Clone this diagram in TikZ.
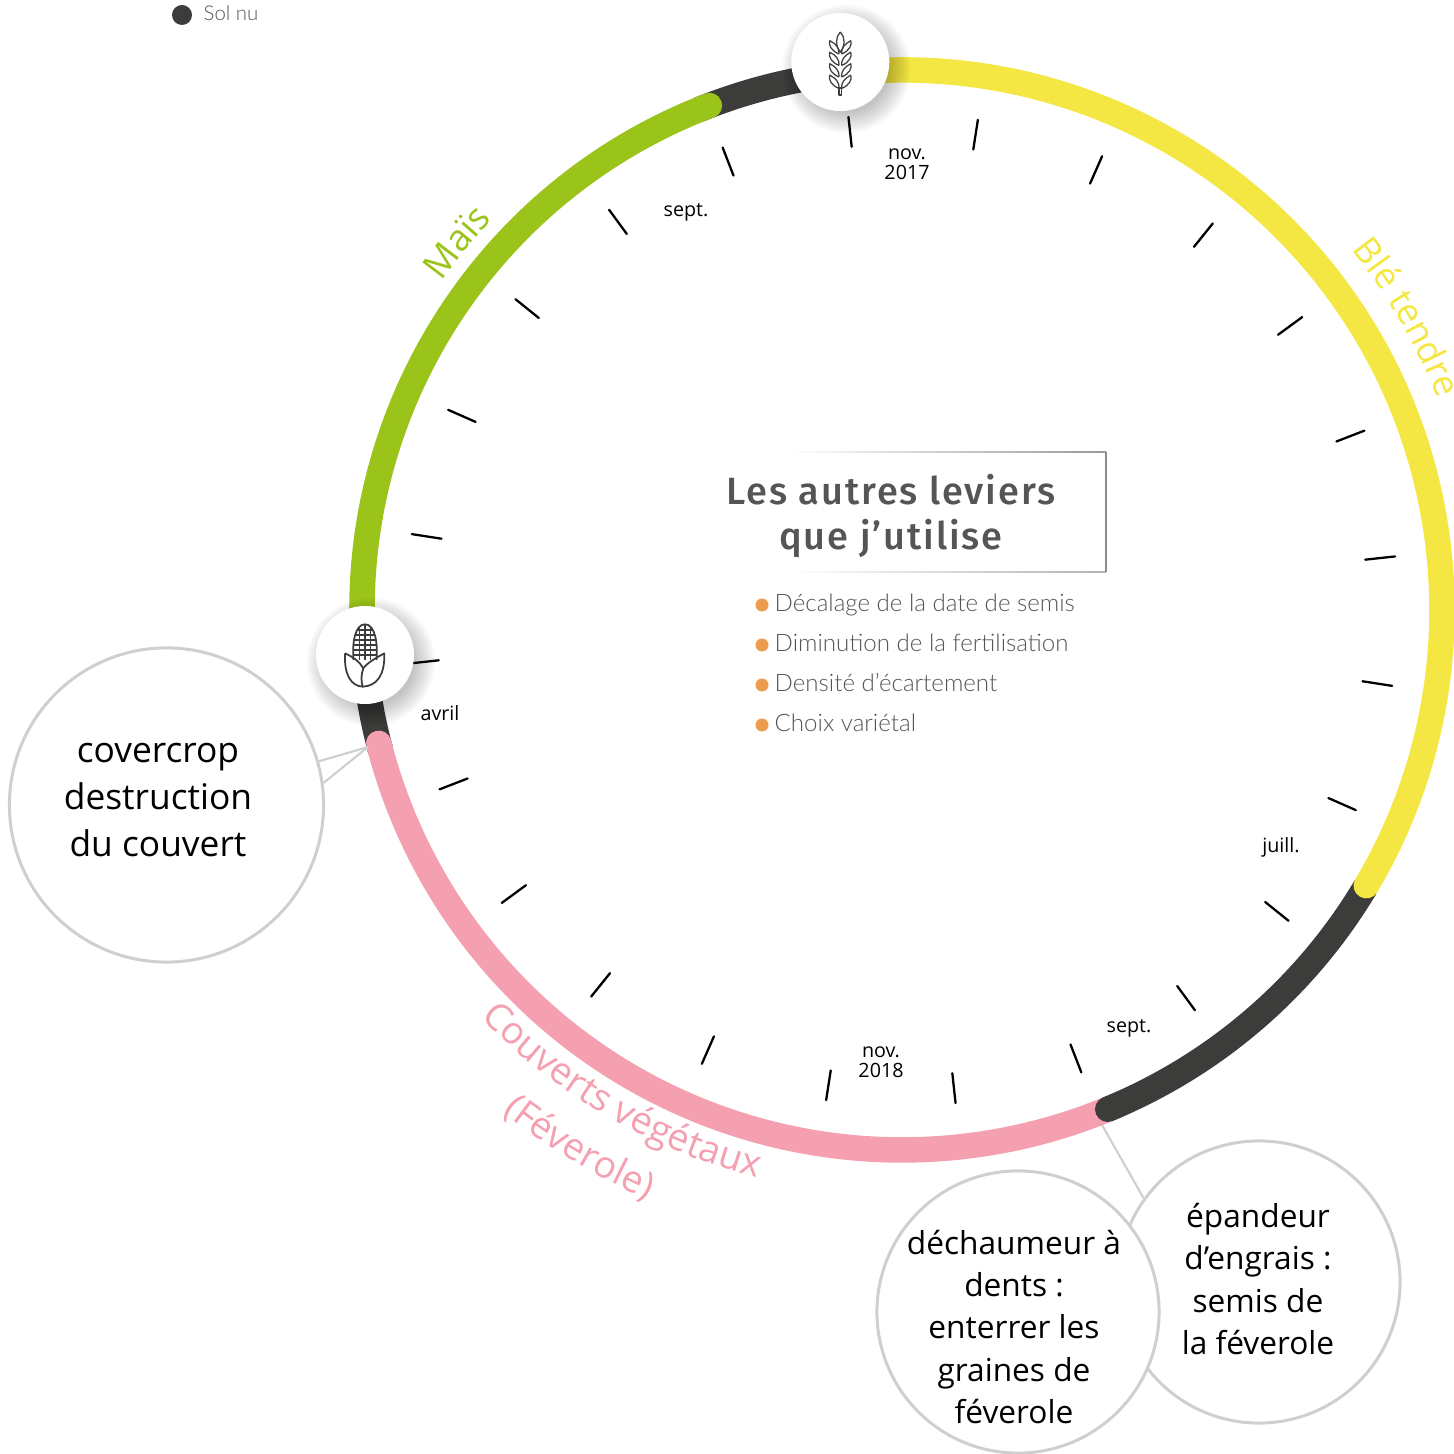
\documentclass[tikz,border=0pt]{standalone}
\usepackage{fontspec}
\setmainfont{Open Sans}
\newfontfamily\leverfont{Lato Light}
\newfontfamily\titlefont[LetterSpace=5]{Fira Sans Medium}
\usepackage{tikz}
\usetikzlibrary{calc}
\usetikzlibrary{decorations.text}
\definecolor{soldark}{HTML}{3C3C3B}
\definecolor{maisgreen}{HTML}{9BC41A}
\definecolor{bleyellow}{HTML}{F5E743}
\definecolor{couvpink}{HTML}{F4A0B0}
\definecolor{callgray}{HTML}{CFCFCF}
\definecolor{leverorange}{HTML}{EC9C4D}
\definecolor{titlegray}{HTML}{555555}
\definecolor{listgray}{HTML}{555555}
\tikzset{
    ring/.style={line width=0.255cm, line cap=round},
    monthtick/.style={line width=0.65pt, black, line cap=round},
    callout/.style={circle, draw=callgray, line width=0.85pt, fill=white, inner sep=0pt},
    calltext/.style={align=center, font=\fontsize{9}{12.05}\selectfont},
    calllink/.style={draw=callgray, line width=0.6pt},
    monthlabel/.style={align=center, font=\fontsize{5.6}{5.7}\selectfont},
    leveritem/.style={anchor=base west, inner sep=0pt, text=listgray, font=\leverfont\fontsize{6.85}{9}\selectfont},
    leverdot/.style={circle, fill=leverorange, inner sep=0pt, minimum size=0.13cm},
    iconline/.style={line width=0.35pt, draw=soldark, line join=round},
    iconbadge/.style={circle, fill=white, inner sep=0pt, minimum size=0.98cm},
}
\newcommand{\softshadow}[1]{%
    \foreach \rr in {44,46,...,64}
        \fill[black, opacity=0.022] ($(#1)+(6,-7)$) circle [radius=\rr];
}
\begin{document}
\begin{tikzpicture}[x=0.01cm, y=0.01cm]
    \useasboundingbox (0,0) rectangle (1454,1454);
    % rotation ring
    \begin{scope}[shift={(902,844)}]
        \draw[ring, soldark] (96:540) arc [start angle=96, end angle=112, radius=540];
        \draw[ring, soldark] (184:540) arc [start angle=184, end angle=195, radius=540];
        \draw[ring, couvpink] (194.3:540) arc [start angle=194.3, end angle=293.5, radius=540];
        \draw[ring, soldark] (292.4:540) arc [start angle=292.4, end angle=329, radius=540];
        \draw[ring, maisgreen] (110.9:540) arc [start angle=110.9, end angle=186, radius=540];
        \draw[ring, bleyellow] (96:540) arc [start angle=96, end angle=-30.7, radius=540];
        \foreach \k in {0,...,23}
            \draw[monthtick] (96.2-15*\k:466) -- (96.2-15*\k:496);
        % crop names on the ring
        \path[decorate, decoration={text along path, text={|\fontsize{10.4}{12}\selectfont\color{maisgreen}|Maïs}}]
            (144.5:566) arc [start angle=144.5, end angle=124, radius=566];
        \path[decorate, decoration={text along path, text={|\fontsize{10.2}{12}\selectfont\color{bleyellow}|Blé tendre}}]
            (38.7:576) arc [start angle=38.7, end angle=15, radius=576];
        \path[decorate, decoration={text along path, text={|\fontsize{10.7}{12}\selectfont\color{couvpink}|Couverts végétaux}}]
            (224:586) arc [start angle=224, end angle=264, radius=586];
        \path[decorate, decoration={text along path, text={|\fontsize{10.6}{12}\selectfont\color{couvpink}|(Féverole)}}]
            (231.5:642) arc [start angle=231.5, end angle=254, radius=642];
    \end{scope}
    % legend
    \node[circle, fill=soldark, inner sep=0pt, minimum size=0.2cm] (soldot) at (182,1439) {};
    \node[leveritem, font=\leverfont\fontsize{5.8}{7}\selectfont] (sollabel) at (203,1433) {Sol nu};
    % month labels
    \node[monthlabel] (nov17) at (907,1290) {nov.\\2017};
    \node[monthlabel] (sept17) at (686,1242) {sept.};
    \node[monthlabel] (avril) at (440,741) {avril};
    \node[monthlabel] (juill) at (1281,607) {juill.};
    \node[monthlabel] (sept18) at (1129,426) {sept.};
    \node[monthlabel] (nov18) at (881,392) {nov.\\2018};
    % crop badges
    \coordinate (wheat) at (840.3,1392);
    \coordinate (corn) at (365,799);
    \softshadow{wheat}
    \softshadow{corn}
    \node[iconbadge] (wheatbadge) at (wheat) {};
    \node[iconbadge] (cornbadge) at (corn) {};
    \begin{scope}[shift={(wheat)}]
        \draw[iconline] (0,30) .. controls (-5,25) and (-5,16) .. (0,10) .. controls (5,16) and (5,25) .. (0,30);
        \draw[iconline] (-1.3,-26) rectangle (1.3,-33);
        \foreach \k in {0,1,2,3}
            \foreach \s in {-1,1}
                \draw[iconline] (\s*1.2, 8-11.5*\k) .. controls (\s*9,11-11.5*\k) and (\s*12,17-11.5*\k)
                    .. (\s*10.5, 21.3-11.5*\k) .. controls (\s*4,18-11.5*\k) and (\s*1,14-11.5*\k) .. (\s*1.2, 8-11.5*\k);
    \end{scope}
    \begin{scope}[shift={(corn)}]
        \begin{scope}
            \clip (-11.5,-5) .. controls (-13,12) and (-10,30.7) .. (0,30.7) .. controls (10,30.7) and (13,12) .. (11.5,-5) -- cycle;
            \foreach \yy in {0,5,...,25}
                \draw[iconline] (-14,\yy) -- (14,\yy);
            \foreach \xx in {-5.7,0,5.7}
                \draw[iconline] (\xx,-6) -- (\xx,32);
        \end{scope}
        \draw[iconline, line width=0.5pt] (-11.5,-5) .. controls (-13,12) and (-10,30.7) .. (0,30.7) .. controls (10,30.7) and (13,12) .. (11.5,-5);
        \draw[iconline, line width=0.5pt] (-20,1.7) .. controls (-12,-2) and (-5,-7) .. (-1.7,-13.3)
            .. controls (-4,-20) and (-4,-26) .. (-2.3,-31.7) .. controls (-14,-31) and (-21,-20) .. (-20,1.7);
        \draw[iconline, line width=0.5pt] (-1.7,-13.3) .. controls (2,-8) and (11,-3) .. (19.3,1.7)
            .. controls (20,-20) and (12,-31) .. (-2.3,-31.7);
    \end{scope}
    % callouts
    \node[callout, minimum size=3.14cm] (destruction) at (166.5,649) {};
    \node[callout, minimum size=2.82cm] (epandeur) at (1259,172) {};
    \coordinate (destrend) at (368,707);
    \coordinate (epandend) at (1102,329);
    \draw[calllink] (destrend) -- (destruction.16);
    \draw[calllink] (destrend) -- (destruction.8);
    \draw[calllink] (epandend) -- (epandeur.144);
    \node[callout, minimum size=2.82cm] (dechaumeur) at (1018,142) {};
    \node[calltext, font=\fontsize{10.05}{13.4}\selectfont] (destrtext) at (158,654) {covercrop\\destruction\\du couvert};
    \node[calltext] (epandtext) at (1258,175) {épandeur\\d’engrais :\\semis de\\la féverole};
    \node[calltext] (dechtext) at (1014,127) {déchaumeur à\\dents :\\enterrer les\\graines de\\féverole};
    % other levers
    \shade[left color=white, right color=gray!80] (790,1001.5) rectangle (1106,1002.2);
    \shade[left color=white, right color=gray!60] (790,881.5) rectangle (1106,882.2);
    \draw[gray!90, line width=0.3pt] (1106,1002) -- (1106,882);
    \node[align=center, text=titlegray, font=\titlefont\fontsize{10.8}{12.8}\selectfont] (title) at (891,938) {Les autres leviers\\que j’utilise};
    \foreach \lab/\yy [count=\i] in {Décalage de la date de semis/850, Diminution de la fertilisation/810, Densité d’écartement/770, Choix variétal/730} {
        \node[leverdot] (dot\i) at (762,\yy-1) {};
        \node[leveritem] (item\i) at (774,\yy-8) {\lab};
    }
\end{tikzpicture}
\end{document}
